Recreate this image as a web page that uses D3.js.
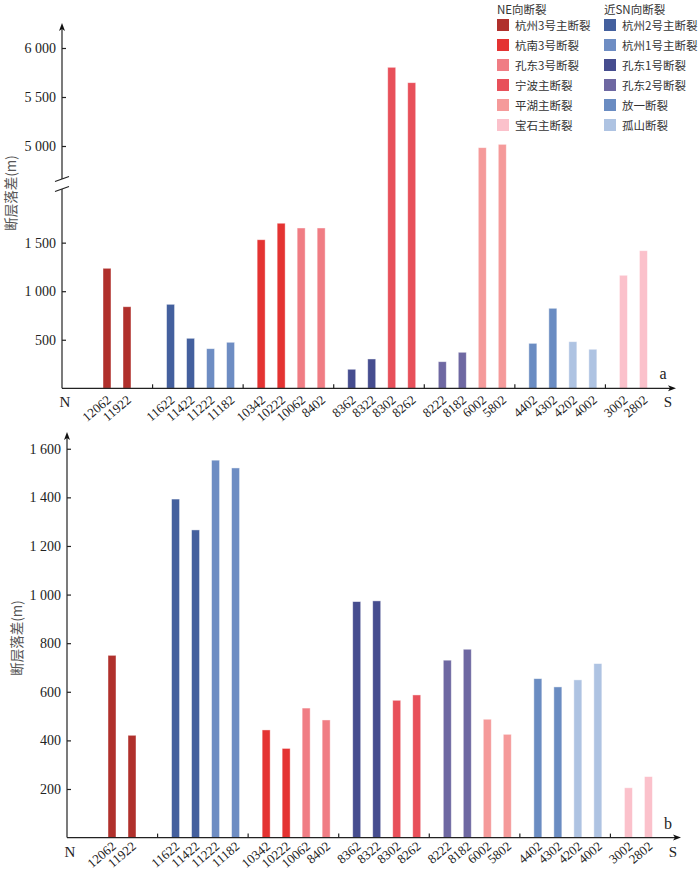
<!DOCTYPE html>
<html>
<head>
<meta charset="utf-8">
<script src="https://cdn.jsdelivr.net/npm/d3@7"></script>
<style>
    body{margin:0;background:#fff;}
    svg text{font-family:"Liberation Serif","DejaVu Serif",serif;fill:#222;}
    .cjk{font-family:"Noto Sans CJK SC","Noto Sans",sans-serif;}
    .axisline{stroke:#222;stroke-width:1.2;fill:none;}
    .tick line{stroke:#222;stroke-width:1.2;}
    .tick text{font-size:14px;}
    .xlabel{font-size:13px;}
    .ytitle{font-size:13.5px;fill:#555;}
    .legend{font-size:11.5px;fill:#333;}
    .bar{stroke:#fff;stroke-opacity:0.55;stroke-width:0.8;}
</style>
</head>
<body>
<svg id="chart" width="700" height="872"></svg>
<script>
// wells along the N-S section, grouped in blocks of four slots (null = empty slot)
const wellGroups = [
    [null, "12062", "11922", null],
    ["11622", "11422", "11222", "11182"],
    ["10342", "10222", "10062", "8402"],
    ["8362", "8322", "8302", "8262"],
    ["8222", "8182", "6002", "5802"],
    ["4402", "4302", "4202", "4002"],
    ["3002", "2802", null, null]
];
const wellFault = [
    "杭州3号主断裂", "杭州3号主断裂", "杭州2号主断裂", "杭州2号主断裂",
    "杭州1号主断裂", "杭州1号主断裂", "杭南3号断裂", "杭南3号断裂",
    "孔东3号断裂", "孔东3号断裂", "孔东1号断裂", "孔东1号断裂",
    "宁波主断裂", "宁波主断裂", "孔东2号断裂", "孔东2号断裂",
    "平湖主断裂", "平湖主断裂", "放一断裂", "放一断裂",
    "孤山断裂", "孤山断裂", "宝石主断裂", "宝石主断裂"
];
// fault throw (m), panel a and panel b
const throwA = [1236, 840, 865, 515, 408, 474, 1530, 1700, 1651, 1651, 196, 302,
                5803, 5646, 274, 371, 4983, 5017, 463, 824, 480, 402, 1164, 1417];
const throwB = [750, 421, 1393, 1266, 1553, 1521, 443, 367, 533, 484, 971, 974,
                565, 587, 730, 775, 487, 425, 654, 620, 649, 716, 205, 251];

const neFaults = ["杭州3号主断裂", "杭南3号断裂", "孔东3号断裂", "宁波主断裂", "平湖主断裂", "宝石主断裂"];
const neColors = ["#b0302c", "#e43332", "#f07d84", "#e8505a", "#f59a9a", "#fbc1cb"];
const snFaults = ["杭州2号主断裂", "杭州1号主断裂", "孔东1号断裂", "孔东2号断裂", "放一断裂", "孤山断裂"];
const snColors = ["#44609e", "#6e8dc3", "#464d8f", "#6e68a2", "#6a8cc2", "#aec3e2"];

const ticksALow = [500, 1000, 1500];
const ticksAHigh = [5000, 5500, 6000];
const ticksB = [200, 400, 600, 800, 1000, 1200, 1400, 1600];

const colorOf = d3.scaleOrdinal().domain(neFaults.concat(snFaults)).range(neColors.concat(snColors));
const fmt = d3.formatLocale({decimal: ".", thousands: " ", grouping: [3], currency: ["", ""]}).format(",");

// flatten wells with group/slot index
const wells = [];
wellGroups.forEach((grp, gi) => grp.forEach((w, si) => {
    if (w) wells.push({name: w, group: gi, slot: si});
}));
wells.forEach((w, i) => {
    w.fault = wellFault[i];
    w.a = throwA[i];
    w.b = throwB[i];
});

const svg = d3.select("#chart");
const outer = d3.scaleBand().domain(d3.range(wellGroups.length)).range([0, 634]);
const inner = d3.scaleBand().domain(d3.range(4)).range([8, 88]);
const barW = 8;
// first block sits a little further right in the original layout
const barX = d => outer(d.group) + inner(d.slot) + (inner.bandwidth() - barW) / 2 + (d.group === 0 ? 7 : 0);

function arrowUp(g, x, y){
    g.append("path").attr("d", `M${x - 3},${y + 8} L${x},${y} L${x + 3},${y + 8} L${x},${y + 6} Z`)
        .attr("fill", "#111");
}
function arrowRight(g, x, y){
    g.append("path").attr("d", `M${x - 8},${y - 3} L${x},${y} L${x - 8},${y + 3} L${x - 6},${y} Z`)
        .attr("fill", "#111");
}

function drawXAxis(g, base, key, letter, labelDy){
    g.selectAll("rect.bar").data(wells).join("rect")
        .attr("class", "bar")
        .attr("x", barX)
        .attr("width", barW)
        .attr("y", d => key(d))
        .attr("height", d => base - key(d))
        .attr("fill", d => colorOf(d.fault));

    g.append("line").attr("class", "axisline").attr("x1", 0).attr("x2", 610).attr("y1", base).attr("y2", base);
    arrowRight(g, 614, base);
    g.selectAll("line.gtick").data(d3.range(1, wellGroups.length)).join("line")
        .attr("class", "axisline gtick")
        .attr("x1", d => outer(d)).attr("x2", d => outer(d))
        .attr("y1", base).attr("y2", base - 4);

    g.selectAll("text.xlabel").data(wells).join("text")
        .attr("class", "xlabel")
        .attr("text-anchor", "end")
        .attr("transform", d => `translate(${barX(d) + barW / 2 + 5},${base + labelDy}) rotate(-40)`)
        .text(d => d.name);

    g.append("text").attr("x", 3).attr("y", base + 19).attr("text-anchor", "middle")
        .style("font-size", "15px").text("N");
    g.append("text").attr("x", 606).attr("y", base + 19).attr("text-anchor", "middle")
        .style("font-size", "15px").text("S");
    g.append("text").attr("x", 601).attr("y", base - 9).attr("text-anchor", "middle")
        .style("font-size", "16px").text(letter);
}

// ---------- panel a (broken y axis) ----------
const ga = svg.append("g").attr("transform", "translate(62,0)");
const baseA = 388.3;
const yLow = d3.scaleLinear().domain([0, 2000]).range([baseA, 194.1]);
const yHigh = d3.scaleLinear().domain([4700, 6200]).range([175.4, 28.4]);
const yA = d => d.a > 2000 ? yHigh(d.a) : yLow(d.a);

drawXAxis(ga, baseA, yA, "a", 13);

ga.append("g").call(d3.axisLeft(yLow).tickValues(ticksALow).tickFormat(fmt)
    .tickSizeInner(-4).tickSizeOuter(0).tickPadding(6))
    .call(s => s.select(".domain").remove());
ga.append("g").call(d3.axisLeft(yHigh).tickValues(ticksAHigh).tickFormat(fmt)
    .tickSizeInner(-4).tickSizeOuter(0).tickPadding(6))
    .call(s => s.select(".domain").remove());
ga.append("line").attr("class", "axisline").attr("x1", 0).attr("x2", 0).attr("y1", baseA).attr("y2", 189);
ga.append("line").attr("class", "axisline").attr("x1", 0).attr("x2", 0).attr("y1", 179).attr("y2", 28);
arrowUp(ga, 0, 23);
ga.append("line").attr("class", "axisline").attr("x1", -7).attr("x2", 7).attr("y1", 181.5).attr("y2", 176.5);
ga.append("line").attr("class", "axisline").attr("x1", -7).attr("x2", 7).attr("y1", 191.5).attr("y2", 186.5);
ga.append("text").attr("class", "ytitle cjk").attr("text-anchor", "middle")
    .attr("transform", "translate(-46,193) rotate(-90)").text("断层落差(m)");

// ---------- panel b ----------
const gb = svg.append("g").attr("transform", "translate(67,0)");
const baseB = 837.6;
const yB = d3.scaleLinear().domain([0, 1650]).range([baseB, 436.6]);

drawXAxis(gb, baseB, d => yB(d.b), "b", 10);

gb.append("g").call(d3.axisLeft(yB).tickValues(ticksB).tickFormat(fmt)
    .tickSizeInner(-4).tickSizeOuter(0).tickPadding(6))
    .call(s => s.select(".domain").remove());
gb.append("line").attr("class", "axisline").attr("x1", 0).attr("x2", 0).attr("y1", baseB).attr("y2", 438);
arrowUp(gb, 0, 432);
gb.append("text").attr("class", "ytitle cjk").attr("text-anchor", "middle")
    .attr("transform", "translate(-45,638) rotate(-90)").text("断层落差(m)");

// ---------- legend ----------
function legendColumn(x, title, names, colors){
    const lg = svg.append("g").attr("transform", `translate(${x},0)`);
    lg.append("text").attr("class", "legend cjk").attr("x", 0).attr("y", 14).text(title);
    const rows = lg.selectAll("g.row").data(names).join("g").attr("class", "row")
        .attr("transform", (d, i) => `translate(0,${25 + i * 20})`);
    rows.append("rect").attr("x", 0).attr("y", -6).attr("width", 12).attr("height", 12)
        .attr("fill", (d, i) => colors[i]);
    rows.append("text").attr("class", "legend cjk").attr("x", 18).attr("y", 4.5).text(d => d);
}
legendColumn(497, "NE向断裂", neFaults, neColors);
legendColumn(604, "近SN向断裂", snFaults, snColors);
</script>
</body>
</html>
